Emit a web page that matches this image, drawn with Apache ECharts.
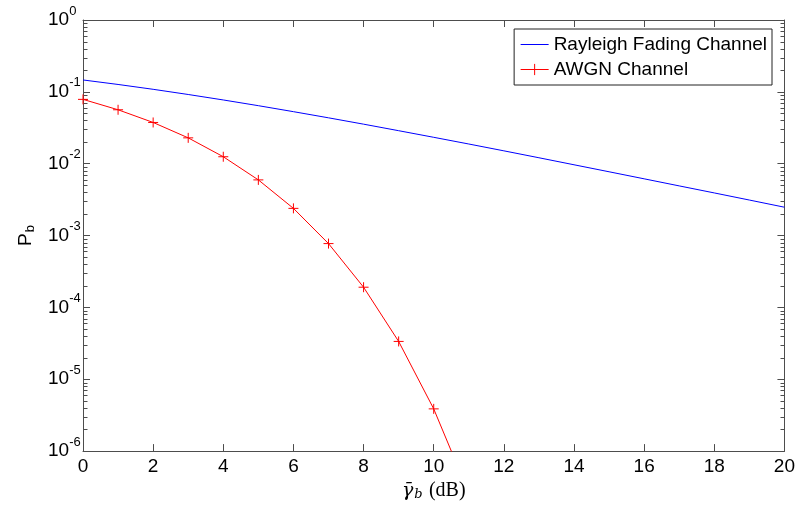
<!DOCTYPE html>
<html>
<head>
<meta charset="utf-8">
<script src="https://cdn.jsdelivr.net/npm/echarts@6/dist/echarts.min.js"></script>
<style>html,body{margin:0;padding:0;background:#fff;}#c{width:798px;height:506px;}</style>
</head>
<body>
<div id="c"></div>
<script>
// ---- data ----
const snrDb = [0,1,2,3,4,5,6,7,8,9,10,11,12,13,14,15,16,17,18,19,20];
const rayleigh = [0.1464,0.1267,0.1085,0.0919,0.0771,0.0642,0.0530,0.0435,0.0355,0.0288,0.0233,0.0188,0.0151,0.0121,0.00966,0.00772,0.00616,0.00491,0.00392,0.00312,0.00248];
const awgnDb = [0,1,2,3,4,5,6,7,8,9,10,11];
const awgn = [0.0786,0.0563,0.0375,0.0229,0.0125,0.00595,0.00239,0.000773,0.000191,0.0000336,0.00000387,0.000000261];
const xTicks = [0,2,4,6,8,10,12,14,16,18,20];
const yDecades = [1e-6,1e-5,1e-4,1e-3,1e-2,1e-1,1];
const minorMult = [2,3,4,5,6,7,8,9];

const AX = '#4d4d4d';
const FONT = '"Liberation Sans", Arial, sans-serif';
const SERIF = '"DejaVu Serif", "Liberation Serif", serif';

const minorVals = [];
for (let i = 0; i < yDecades.length - 1; i++) {
  for (const m of minorMult) minorVals.push([0, yDecades[i] * m]);
}

const chart = echarts.init(document.getElementById('c'), null, {renderer: 'canvas'});
const yLabelFmt = v => {
  const e = Math.round(Math.log10(v));
  return '{b|10}{e|' + e + '}';
};

chart.setOption({
  animation: false,
  backgroundColor: '#fff',
  textStyle: {fontFamily: FONT},
  grid: {left: 83, right: 11, top: 20, bottom: 54, containLabel: false},
  legend: {
    orient: 'vertical', right: 26, top: 29,
    data: [
      {name: 'Rayleigh Fading Channel', itemStyle: {opacity: 0}},
      {name: 'AWGN Channel', itemStyle: {borderWidth: 1}}
    ],
    backgroundColor: '#fff', borderColor: '#222', borderWidth: 1,
    padding: [6, 5, 6, 6], itemWidth: 28, itemHeight: 14, itemGap: 6, itemTextGap: 4,
    lineStyle: {width: 1},
    itemStyle: {borderWidth: 1},
    textStyle: {fontSize: 19, lineHeight: 19, color: '#000', fontFamily: FONT}
  },
  xAxis: [{
    type: 'value', min: 0, max: 20, interval: 2, position: 'bottom',
    name: '{g|γ̄}{s|b} {t|(dB)}', nameLocation: 'middle', nameGap: 28,
    nameTextStyle: {
      rich: {
        g: {fontFamily: SERIF, fontStyle: 'italic', fontSize: 19, color: '#000'},
        s: {fontFamily: SERIF, fontStyle: 'italic', fontSize: 13, color: '#000', padding: [7, 0, 0, 1]},
        t: {fontFamily: '"Liberation Serif", serif', fontSize: 20, color: '#000', padding: [0, 0, 0, 3]}
      }
    },
    axisLine: {show: true, onZero: false, lineStyle: {color: AX, width: 1}},
    axisTick: {show: true, inside: true, length: 7, lineStyle: {color: AX}},
    axisLabel: {show: true, fontSize: 19, color: '#000', margin: 6, fontFamily: FONT},
    splitLine: {show: false}
  }, {
    type: 'value', min: 0, max: 20, interval: 2, position: 'top',
    axisLine: {show: true, onZero: false, lineStyle: {color: AX, width: 1}},
    axisTick: {show: true, inside: true, length: 7, lineStyle: {color: AX}},
    axisLabel: {show: false}, splitLine: {show: false}
  }],
  yAxis: [{
    type: 'log', logBase: 10, min: 1e-6, max: 1, interval: 1, position: 'left',
    name: '{p|P}{s|b}', nameLocation: 'middle', nameGap: 44, nameRotate: 90,
    nameTextStyle: {
      rich: {
        p: {fontSize: 19, color: '#000', fontFamily: FONT},
        s: {fontSize: 13, color: '#000', fontFamily: FONT, padding: [10, 0, 0, 1]}
      }
    },
    axisLine: {show: true, onZero: false, lineStyle: {color: AX, width: 1}},
    axisTick: {show: true, inside: true, length: 7, lineStyle: {color: AX}},
    axisLabel: {
      show: true, margin: 35, align: 'left', formatter: yLabelFmt,
      rich: {
        b: {fontSize: 19, color: '#000', fontFamily: FONT},
        e: {fontSize: 13, color: '#000', fontFamily: FONT, padding: [0, 0, 18, 0]}
      }
    },
    splitLine: {show: false}
  }, {
    type: 'log', logBase: 10, min: 1e-6, max: 1, interval: 1, position: 'right',
    axisLine: {show: true, onZero: false, lineStyle: {color: AX, width: 1}},
    axisTick: {show: true, inside: true, length: 7, lineStyle: {color: AX}},
    axisLabel: {show: false}, splitLine: {show: false}
  }],
  series: [{
    name: 'Rayleigh Fading Channel', type: 'line',
    data: snrDb.map((x, i) => [x, rayleigh[i]]),
    symbol: 'none', lineStyle: {color: '#0000ff', width: 1}, itemStyle: {color: '#0000ff'},
    clip: true, z: 3
  }, {
    name: 'AWGN Channel', type: 'line',
    data: awgnDb.map((x, i) => [x, awgn[i]]),
    symbol: 'path://M0,5L10,5M5,0L5,10', symbolSize: 10, showSymbol: true,
    lineStyle: {color: '#ff0000', width: 1},
    itemStyle: {color: '#ff0000', borderColor: '#ff0000', borderWidth: 1},
    clip: true, z: 3
  }, {
    type: 'custom', name: 'minorTicks', silent: true,
    data: minorVals, clip: false, z: 2,
    encode: {x: 0, y: 1},
    renderItem: (params, api) => {
      const v = api.value(1);
      const l = api.coord([0, v]);
      const r = api.coord([20, v]);
      const y = Math.round(l[1]) + 0.5;
      const xl = Math.round(l[0]) + 0.5;
      const xr = Math.round(r[0]) + 0.5;
      return {type: 'group', children: [
        {type: 'line', shape: {x1: xl, y1: y, x2: xl + 4, y2: y}, style: {stroke: AX, lineWidth: 1}},
        {type: 'line', shape: {x1: xr, y1: y, x2: xr - 4, y2: y}, style: {stroke: AX, lineWidth: 1}}
      ]};
    }
  }]
});
</script>
</body>
</html>
